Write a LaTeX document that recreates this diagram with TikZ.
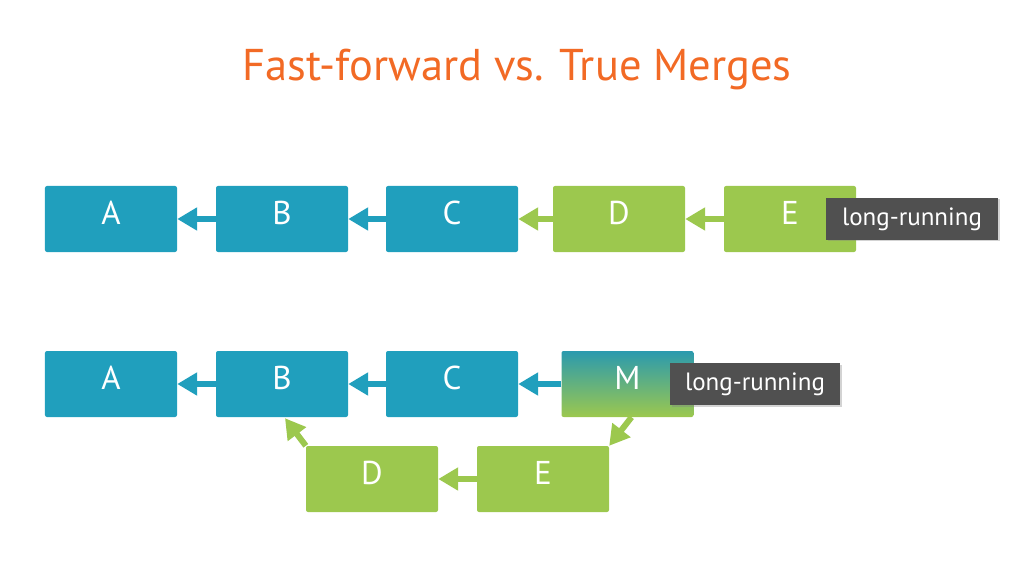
\documentclass[tikz,border=0pt]{standalone}
\usepackage{fontspec}
\setmainfont{PT Sans}
\usetikzlibrary{arrows.meta,calc,shadows}
\definecolor{cblue}{HTML}{209FBD}
\definecolor{cgreen}{HTML}{9CC84E}
\definecolor{corange}{HTML}{F26A25}
\definecolor{cgray}{HTML}{505050}
\definecolor{mtop}{HTML}{2B9AAE}
\tikzset{
  commit/.style={rectangle, rounded corners=2bp, minimum width=132bp, minimum height=66bp, inner sep=0pt, text=white, text depth=12bp, font=\fontsize{33bp}{35bp}\selectfont},
  bluebox/.style={commit, fill=cblue},
  greenbox/.style={commit, fill=cgreen},
  tag/.style={rectangle, fill=cgray, text=white, minimum height=42bp, inner sep=0pt, font=\fontsize{25bp}{27bp}\selectfont, drop shadow={shadow xshift=1.5bp, shadow yshift=-1.5bp, opacity=0.35}},
  link/.style={line width=6bp, -{Triangle[length=20bp,width=22bp]}},
}
\begin{document}
\begin{tikzpicture}[x=1bp,y=-1bp]
\useasboundingbox (0,0) rectangle (1024,576);
\node[text=corange, font=\fontsize{44.5bp}{46bp}\selectfont] (title) at (517,70) {Fast-forward vs. True Merges};
% top row
\node[bluebox] (A1) at (111,219) {A};
\node[bluebox] (B1) at (282,219) {B};
\node[bluebox] (C1) at (452,219) {C};
\node[greenbox] (D1) at (619,219) {D};
\node[greenbox] (E1) at (790,219) {E};
\node[tag, minimum width=172bp] (L1) at (912,219) {long-running};
\draw[link, cblue] (B1.west) -- (A1.east);
\draw[link, cblue] (C1.west) -- (B1.east);
\draw[link, cgreen] (D1.west) -- (C1.east);
\draw[link, cgreen] (E1.west) -- (D1.east);
% bottom row
\node[bluebox] (A2) at (111,384) {A};
\node[bluebox] (B2) at (282,384) {B};
\node[bluebox] (C2) at (452,384) {C};
\node[commit, top color=mtop, bottom color=cgreen] (M2) at (627.5,384) {M};
\node[tag, minimum width=170bp] (L2) at (755,384) {long-running};
\node[greenbox] (D2) at (372,479) {D};
\node[greenbox] (E2) at (543,479) {E};
\draw[link, cblue] (B2.west) -- (A2.east);
\draw[link, cblue] (C2.west) -- (B2.east);
\draw[link, cblue] (M2.west) -- (C2.east);
\draw[link, cgreen] ($(M2.south)+(4,0)$) -- (E2.north east);
\draw[link, cgreen] (E2.west) -- (D2.east);
\draw[link, cgreen] (D2.north west) -- ($(B2.south)+(3,1)$);
\end{tikzpicture}
\end{document}
